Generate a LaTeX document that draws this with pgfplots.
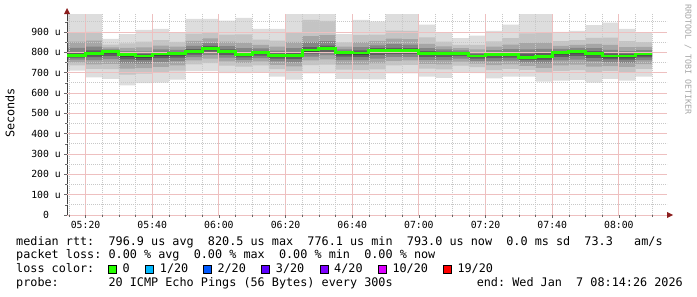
\documentclass[border=0pt]{standalone}
\usepackage{fontspec}
\setmainfont{DejaVu Sans Mono}
\newfontfamily\mono{DejaVu Sans Mono}
\usepackage{pgfplots}
\pgfplotsset{compat=1.18}
\usepackage{pgfplotstable}
\usepgfplotslibrary{fillbetween}
\frenchspacing
\definecolor{g1}{HTML}{DDDDDD}
\definecolor{g2}{HTML}{C4C4C4}
\definecolor{g3}{HTML}{A6A6A6}
\definecolor{g4}{HTML}{858585}
\definecolor{g5}{HTML}{5E5E5E}
\definecolor{g6}{HTML}{343434}
\definecolor{medgreen}{HTML}{26FF00}
\definecolor{l1}{HTML}{00B8FF}
\definecolor{l2}{HTML}{0059FF}
\definecolor{l3}{HTML}{5E00FF}
\definecolor{l4}{HTML}{7E00FF}
\definecolor{l10}{HTML}{DD00FF}
\definecolor{l19}{HTML}{FF0000}
\definecolor{arrowred}{RGB}{140,30,30}
\definecolor{mgrid}{RGB}{238,192,192}
\definecolor{ngrid}{RGB}{200,200,200}
\newcommand\lbl{\mono\fontsize{11.8bp}{14bp}\selectfont}
\newcommand\tlbl{\mono\fontsize{9.8bp}{11bp}\selectfont}
\newcommand\credit{\mono\fontsize{8.3bp}{10bp}\selectfont}

\pgfplotstableread{
t      M    m    h2  l2  h3  l3  h4  l4  h5  l5  h6  l6  d
14.433 1000 710 897 736 852 751 822 764 801 774 789 780 785
20     1000 677 900 718 857 741 828 761 809 776 797 786 793
25     866  670 838 717 824 743 814 766 808 783 804 795 803
30     890  638 844 690 822 720 806 746 796 765 790 779 788
35     910  648 852 695 824 722 805 744 792 762 785 774 782
40     915  651 860 700 833 729 814 753 802 771 794 784 792
45     898  666 851 710 828 736 812 757 801 774 795 785 793
50     964  707 892 741 856 760 832 776 816 789 806 797 803
55     964  707 899 747 868 769 846 788 832 803 823 813 820
60     956  698 887 735 853 756 831 774 815 787 806 797 803
65     969  698 888 730 848 748 821 763 802 775 792 783 788
70     915  703 862 736 837 755 819 771 807 784 800 792 798
75     915  680 857 717 828 738 808 756 795 769 788 779 785
80     1000 666 896 707 851 731 821 751 800 766 788 777 784
85     1000 697 960 737 880 760 850 779 825 794 815 804 811
90     1000 697 955 740 885 765 855 786 833 802 823 813 820
95     890  670 849 715 828 740 815 762 805 779 800 790 798
100    959  668 886 713 850 739 826 761 810 778 800 789 797
105    952  667 887 716 856 745 834 769 820 787 811 800 808
110    1000 697 907 736 867 758 840 777 822 791 812 801 808
115    1000 697 905 738 865 760 838 778 820 792 811 801 808
120    936  680 873 720 842 743 820 763 806 778 798 788 795
125    898  674 852 716 829 741 814 761 803 777 797 788 795
130    870  703 836 735 820 754 809 769 801 781 797 789 795
135    882  698 837 727 815 744 800 758 790 769 784 777 782
140    906  672 854 713 828 737 811 757 799 772 792 783 790
145    936  680 870 719 838 741 816 759 802 774 793 783 790
150    1000 680 893 714 846 733 814 749 793 762 780 770 776
155    1000 656 894 699 848 724 817 745 796 761 783 772 779
160    901  661 855 709 832 736 817 760 806 777 800 790 798
165    906  664 860 713 837 740 822 764 811 782 805 795 803
170    934  651 871 701 841 730 820 755 806 773 798 786 795
175    946  670 872 709 836 732 812 751 795 765 785 775 782
180    915  661 855 703 826 728 806 748 793 764 785 775 782
185    898  680 850 719 827 742 811 761 800 775 794 785 792
190    898  680 850 719 827 742 811 761 800 775 794 785 792
}\data

\begin{document}
\begin{tikzpicture}
\path (0,0) rectangle (697bp,-297bp);
\begin{axis}[
  at={(67bp,-215bp)}, anchor=south west,
  scale only axis, width=600bp, height=200.5bp,
  xmin=14.433, xmax=194.433, ymin=0, ymax=986,
  axis x line*=bottom, axis y line*=left,
  axis line style={draw=none},
  xtick={20,40,...,180},
  xticklabels={05:20,05:40,06:00,06:20,06:40,07:00,07:20,07:40,08:00},
  minor xtick={15,25,30,35,45,50,55,65,70,75,85,90,95,105,110,115,125,130,135,145,150,155,165,170,175,185,190},
  ytick={0,100,...,900},
  yticklabels={0\phantom{ u},100 u,200 u,300 u,400 u,500 u,600 u,700 u,800 u,900 u},
  minor ytick={50,150,...,950},
  grid=both,
  major grid style={draw=mgrid, solid, line width=0.8bp},
  minor grid style={draw=ngrid, dash pattern=on 1bp off 1bp, line width=0.75bp},
  tick align=outside, major tick length=3bp, minor tick length=2bp,
  tick style={black!60, line width=0.6bp, solid},
  set layers=axis on top,
  ticklabel style={font=\tlbl},
  xticklabel style={anchor=north, inner sep=0pt, yshift=-3bp},
  yticklabel style={anchor=east, inner sep=0pt, xshift=-3bp},
]
\addplot[draw=none, const plot, name path=H1] table[x=t,y=M] {\data};
\addplot[draw=none, const plot, name path=L1] table[x=t,y=m] {\data};
\addplot[fill=g1, draw=none] fill between[of=H1 and L1];
\addplot[draw=none, const plot, name path=H2] table[x=t,y=h2] {\data};
\addplot[draw=none, const plot, name path=L2] table[x=t,y=l2] {\data};
\addplot[fill=g2, draw=none] fill between[of=H2 and L2];
\addplot[draw=none, const plot, name path=H3] table[x=t,y=h3] {\data};
\addplot[draw=none, const plot, name path=L3] table[x=t,y=l3] {\data};
\addplot[fill=g3, draw=none] fill between[of=H3 and L3];
\addplot[draw=none, const plot, name path=H4] table[x=t,y=h4] {\data};
\addplot[draw=none, const plot, name path=L4] table[x=t,y=l4] {\data};
\addplot[fill=g4, draw=none] fill between[of=H4 and L4];
\addplot[draw=none, const plot, name path=H5] table[x=t,y=h5] {\data};
\addplot[draw=none, const plot, name path=L5] table[x=t,y=l5] {\data};
\addplot[fill=g5, draw=none] fill between[of=H5 and L5];
\addplot[draw=none, const plot, name path=H6] table[x=t,y=h6] {\data};
\addplot[draw=none, const plot, name path=L6] table[x=t,y=l6] {\data};
\addplot[fill=g6, draw=none] fill between[of=H6 and L6];
\addplot[const plot, draw=medgreen, line width=2.8bp, on layer=axis foreground] table[x=t,y=d] {\data};
\end{axis}
% axes with arrows
\draw[black!85, line width=1bp] (67bp,-215bp) -- (668bp,-215bp);
\draw[black!75, line width=1bp] (67bp,-215bp) -- (67bp,-12bp);
\fill[arrowred] (673bp,-215bp) -- (667bp,-212bp) -- (667bp,-218bp) -- cycle;
\fill[arrowred] (67bp,-8bp) -- (64bp,-14bp) -- (70bp,-14bp) -- cycle;
% labels
\node[rotate=90, font=\lbl, inner sep=0pt] at (10bp,-113bp) {Seconds};
\node[rotate=-90, anchor=west, font=\credit, text=black!35, inner sep=0pt] at (688bp,-4bp) {RRDTOOL / TOBI OETIKER};
% legend lines
\node[anchor=base west, font=\lbl, inner sep=0pt] at (16bp,-245bp) {median rtt:~~796.9 us avg~~820.5 us max~~776.1 us min~~793.0 us now~~0.0 ms sd~~73.3~~~am/s};
\node[anchor=base west, font=\lbl, inner sep=0pt] at (16bp,-258.9bp) {packet loss: 0.00 \% avg~~0.00 \% max~~0.00 \% min~~0.00 \% now};
\node[anchor=base west, font=\lbl, inner sep=0pt] at (16bp,-272.8bp) {loss color:};
\foreach \bx/\col/\txt in {108.3/medgreen/0, 145.7/l1/1\slash20, 203.3/l2/2\slash20, 261.7/l3/3\slash20, 320/l4/4\slash20, 378.3/l10/10\slash20, 443.3/l19/19\slash20}{
  \filldraw[fill=\col, draw=black, line width=0.8bp] (\bx bp,-265bp) rectangle ++(8bp,-8.5bp);
  \node[anchor=base west, font=\lbl, inner sep=0pt] at ({\bx bp+14bp},-272.8bp) {\txt};
}
\node[anchor=base west, font=\lbl, inner sep=0pt] at (16bp,-286.7bp) {probe:~~~~~~~20 ICMP Echo Pings (56 Bytes) every 300s};
\node[anchor=base east, font=\lbl, inner sep=0pt] at (683bp,-286.7bp) {end: Wed Jan~~7 08:14:26 2026};
\end{tikzpicture}
\end{document}
